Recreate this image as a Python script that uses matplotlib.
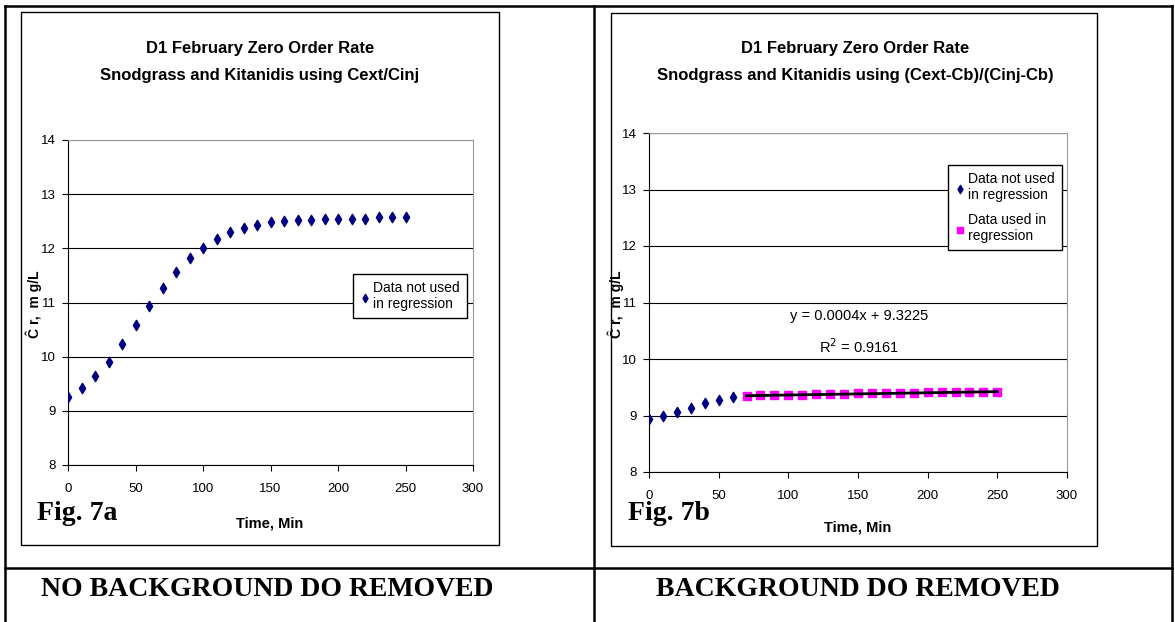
import matplotlib.pyplot as plt
import numpy as np
from matplotlib.patches import Rectangle
from matplotlib.lines import Line2D

W, H = 1175, 622

# Fig. 7a data (no background DO removed)
time_a = np.arange(0, 260, 10)
cr_a = [9.26, 9.43, 9.64, 9.90, 10.23, 10.58, 10.93, 11.27, 11.57, 11.83,
        12.01, 12.18, 12.30, 12.37, 12.43, 12.49, 12.51, 12.53, 12.53, 12.55,
        12.55, 12.55, 12.55, 12.58, 12.58, 12.58]

# Fig. 7b data (background DO removed)
time_b_not = np.arange(0, 70, 10)
cr_b_not = [8.93, 9.00, 9.07, 9.13, 9.22, 9.27, 9.32]
time_b_used = np.arange(70, 260, 10)
cr_b_used = [9.35, 9.36, 9.36, 9.36, 9.36, 9.38, 9.38, 9.38, 9.39, 9.39,
             9.39, 9.39, 9.39, 9.41, 9.41, 9.41, 9.41, 9.41, 9.42]
slope, intercept, r2 = 0.0004, 9.3225, 0.9161

titles = ["D1 February Zero Order Rate\nSnodgrass and Kitanidis using Cext/Cinj",
          "D1 February Zero Order Rate\nSnodgrass and Kitanidis using (Cext-Cb)/(Cinj-Cb)"]
captions = ["NO BACKGROUND DO REMOVED", "BACKGROUND DO REMOVED"]
fig_labels = ["Fig. 7a", "Fig. 7b"]

NARROW = ['Liberation Sans Narrow', 'Liberation Sans', 'DejaVu Sans']
SERIF = ['Liberation Serif', 'DejaVu Serif']
NAVY = '#000080'
MAGENTA = '#FF00FF'


def rect(x0, y0, x1, y1):
    return [x0 / W, 1 - y1 / H, (x1 - x0) / W, (y1 - y0) / H]


def fx(x):
    return x / W


def fy(y):
    return 1 - y / H


fig = plt.figure(figsize=(W / 100, H / 100), dpi=100)

# table lines
for xs, ys in [([5, 1172], [6, 6]), ([5, 5], [6, 622]), ([594, 594], [6, 622]),
               ([1172, 1172], [6, 622]), ([5, 1172], [568, 568])]:
    fig.add_artist(Line2D([fx(v) for v in xs], [fy(v) for v in ys], color='black', lw=1.8))

# chart frames
for (x0, y0, x1, y1) in [(21, 12, 499, 545), (611, 13, 1097, 546)]:
    fig.add_artist(Rectangle((fx(x0), fy(y1)), (x1 - x0) / W, (y1 - y0) / H,
                             fill=False, ec='black', lw=1.0))


def style_axes(ax):
    ax.set_xlim(0, 300)
    ax.set_ylim(8, 14)
    ax.set_xticks(range(0, 301, 50))
    ax.set_yticks(range(8, 15))
    ax.yaxis.grid(True, color='black', lw=0.8)
    ax.set_axisbelow(True)
    for s in ['top', 'right']:
        ax.spines[s].set_color('#999999')
    for s in ['left', 'bottom']:
        ax.spines[s].set_color('black')
    ax.tick_params(direction='out', length=4, width=0.8, labelsize=9.5)
    ax.tick_params(axis='x', pad=9)
    ax.tick_params(axis='y', pad=5)
    for lab in ax.get_xticklabels() + ax.get_yticklabels():
        lab.set_family(NARROW)


legend_kw = dict(loc='upper right', borderaxespad=0, frameon=True,
                 fancybox=False, edgecolor='black', framealpha=1,
                 prop={'family': NARROW, 'size': 10}, handletextpad=0.2, handlelength=0.8,
                 borderpad=0.5, scatterpoints=1, markerscale=0.8)

# ---- Fig. 7a ----
axa = fig.add_axes(rect(68, 140, 473, 465))
style_axes(axa)
axa.scatter(time_a, cr_a, marker='d', s=28, color=NAVY, zorder=3,
            label='Data not used\nin regression')
axa.legend(bbox_to_anchor=(fx(467), fy(274)), bbox_transform=fig.transFigure, **legend_kw)

# ---- Fig. 7b ----
axb = fig.add_axes(rect(649, 133, 1067, 472))
style_axes(axb)
axb.scatter(time_b_not, cr_b_not, marker='d', s=28, color=NAVY, zorder=3,
            label='Data not used\nin regression')
axb.scatter(time_b_used, cr_b_used, marker='s', s=36, color=MAGENTA, zorder=3,
            label='Data used in\nregression')
fit_x = np.array([time_b_used[0], time_b_used[-1]])
axb.plot(fit_x, slope * fit_x + intercept, color='black', lw=2, zorder=4)
axb.text(151, 10.76, f"y = {slope}x + {intercept}", ha='center', va='center',
         family=NARROW, fontsize=10.5)
axb.text(151, 10.21, f"R$^2$ = {r2}", ha='center', va='center',
         family=NARROW, fontsize=10.5)
axb.legend(bbox_to_anchor=(fx(1062), fy(165)), bbox_transform=fig.transFigure,
           labelspacing=0.8, **legend_kw)

# titles, axis labels, figure labels, captions
for title, cx in zip(titles, [260, 855]):
    fig.text(fx(cx), fy(62), title, ha='center', va='center', fontsize=12,
             fontweight='bold', family=NARROW, linespacing=2.0)

for ly in [34, 616]:
    fig.text(fx(ly), fy(304), "Ĉ r,  m g/L", rotation=90, ha='center', va='center',
             fontsize=10, fontweight='bold', family=NARROW)

for lbl, cx in zip(fig_labels, [77, 669]):
    fig.text(fx(cx), fy(514), lbl, ha='center', va='center', fontsize=20,
             fontweight='bold', family=SERIF)

for cx, cy in [(270, 523), (858, 528)]:
    fig.text(fx(cx), fy(cy), "Time, Min", ha='center', va='center', fontsize=10.5,
             fontweight='bold', family=NARROW)

for cap, cx in zip(captions, [267, 858]):
    fig.text(fx(cx), fy(589), cap, ha='center', va='center', fontsize=20,
             fontweight='bold', family=SERIF)

fig.savefig('out.png', dpi=100)
